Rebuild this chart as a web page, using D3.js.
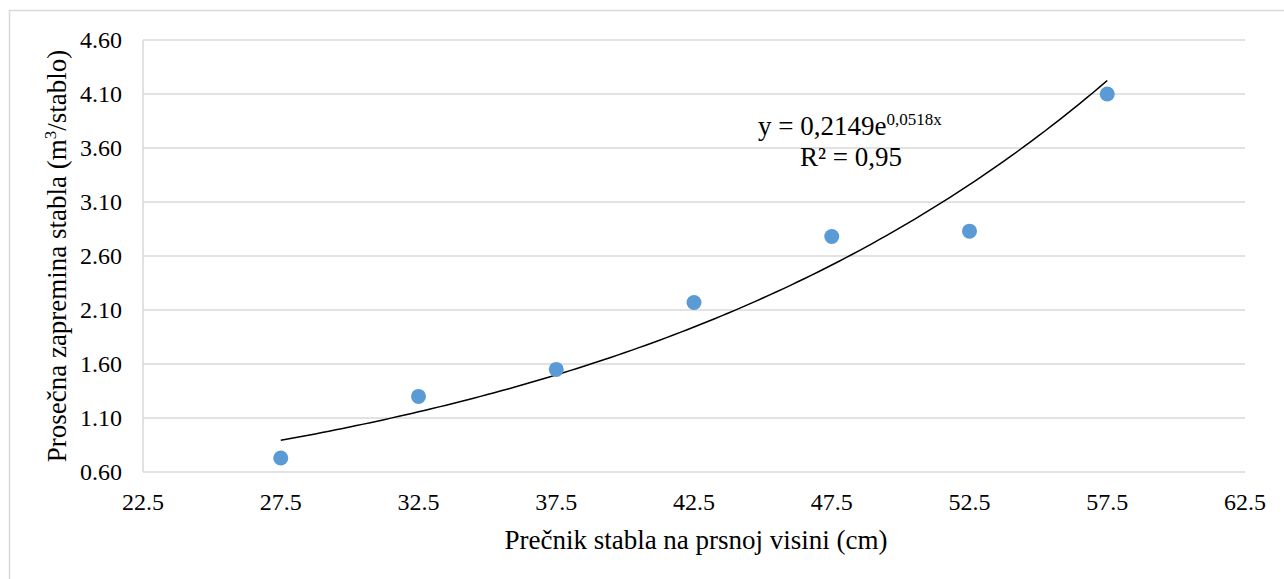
<!DOCTYPE html>
<html>
<head>
<meta charset="utf-8">
<script src="https://cdn.jsdelivr.net/npm/d3@7"></script>
<style>
  body { margin: 0; background: #fff; }
</style>
</head>
<body>
<div id="chart"></div>
<script>
// diameter classes (cm) and mean tree volume (m3/tree)
const diameters = [27.5, 32.5, 37.5, 42.5, 47.5, 52.5, 57.5];
const volumes = [0.73, 1.30, 1.55, 2.17, 2.78, 2.83, 4.10];

const xTicks = [22.5, 27.5, 32.5, 37.5, 42.5, 47.5, 52.5, 57.5, 62.5];
const yTicks = [0.60, 1.10, 1.60, 2.10, 2.60, 3.10, 3.60, 4.10, 4.60];

// exponential trendline as printed on the chart
const trendA = 0.2149;
const trendB = 0.0518;
const trendLabel = ['y = 0,2149e', '0,0518x'];
const r2Label = 'R² = 0,95';

const W = 1284, H = 579;
const margins = { left: 143, right: 39, top: 40, bottom: 107 };
const FONT = '"Liberation Serif", "Times New Roman", "DejaVu Serif", serif';

const svg = d3.select('#chart').append('svg')
	.attr('width', W)
	.attr('height', H)
	.attr('font-family', FONT)
	.style('font-family', FONT);

// outer chart frame
svg.append('rect')
	.attr('x', 9.5).attr('y', 10.5)
	.attr('width', W + 20).attr('height', H + 20)
	.attr('fill', 'none')
	.attr('stroke', '#d9d9d9')
	.attr('stroke-width', 1.5);

const x = d3.scaleLinear()
	.domain([22.5, 62.5])
	.range([margins.left, W - margins.right]);

const y = d3.scaleLinear()
	.domain([0.60, 4.60])
	.range([H - margins.bottom, margins.top]);

// gridlines
svg.append('g').selectAll('line').data(yTicks)
	.enter().append('line')
	.attr('x1', x(22.5)).attr('x2', x(62.5))
	.attr('y1', d => y(d)).attr('y2', d => y(d))
	.attr('stroke', '#d9d9d9')
	.attr('stroke-width', 1.5);

// y axis line
svg.append('line')
	.attr('x1', x(22.5)).attr('x2', x(22.5))
	.attr('y1', y(0.60)).attr('y2', y(4.60))
	.attr('stroke', '#d9d9d9')
	.attr('stroke-width', 1.5);

// y tick labels
svg.append('g').selectAll('text').data(yTicks)
	.enter().append('text')
	.attr('x', 122)
	.attr('y', d => y(d))
	.attr('dy', '0.33em')
	.attr('text-anchor', 'end')
	.style('font-size', '24px')
	.text(d => d.toFixed(2));

// x tick labels
svg.append('g').selectAll('text').data(xTicks)
	.enter().append('text')
	.attr('x', d => x(d))
	.attr('y', 510)
	.attr('text-anchor', 'middle')
	.style('font-size', '24px')
	.text(d => d.toFixed(1));

// axis titles
svg.append('text')
	.attr('x', 696).attr('y', 549)
	.attr('text-anchor', 'middle')
	.style('font-size', '27px')
	.text('Prečnik stabla na prsnoj visini (cm)');

const yTitle = svg.append('text')
	.attr('transform', 'translate(66,' + ((y(0.60) + y(4.60)) / 2) + ') rotate(-90)')
	.attr('text-anchor', 'middle')
	.style('font-size', '27px');
yTitle.append('tspan').text('Prosečna zapremina stabla (m');
yTitle.append('tspan').attr('dy', -10).style('font-size', '17px').text('3');
yTitle.append('tspan').attr('dy', 10).text('/stablo)');

// trendline
const trendX = d3.range(diameters[0], diameters[diameters.length - 1] + 0.01, 0.25);
const lineFn = d3.line()
	.x(d => x(d))
	.y(d => y(trendA * Math.exp(trendB * d)));

svg.append('path')
	.attr('d', lineFn(trendX))
	.attr('fill', 'none')
	.attr('stroke', '#000')
	.attr('stroke-width', 1.5);

// points
svg.append('g').selectAll('circle').data(diameters)
	.enter().append('circle')
	.attr('cx', d => x(d))
	.attr('cy', (d, i) => y(volumes[i]))
	.attr('r', 7.5)
	.attr('fill', '#5b9bd5');

// trendline label
const eq = svg.append('text')
	.attr('x', 758).attr('y', 135)
	.style('font-size', '27px');
eq.append('tspan').text(trendLabel[0]);
eq.append('tspan').attr('dy', -10).style('font-size', '17px').text(trendLabel[1]);

svg.append('text')
	.attr('x', 851).attr('y', 166)
	.attr('text-anchor', 'middle')
	.style('font-size', '27px')
	.text(r2Label);
</script>
</body>
</html>
